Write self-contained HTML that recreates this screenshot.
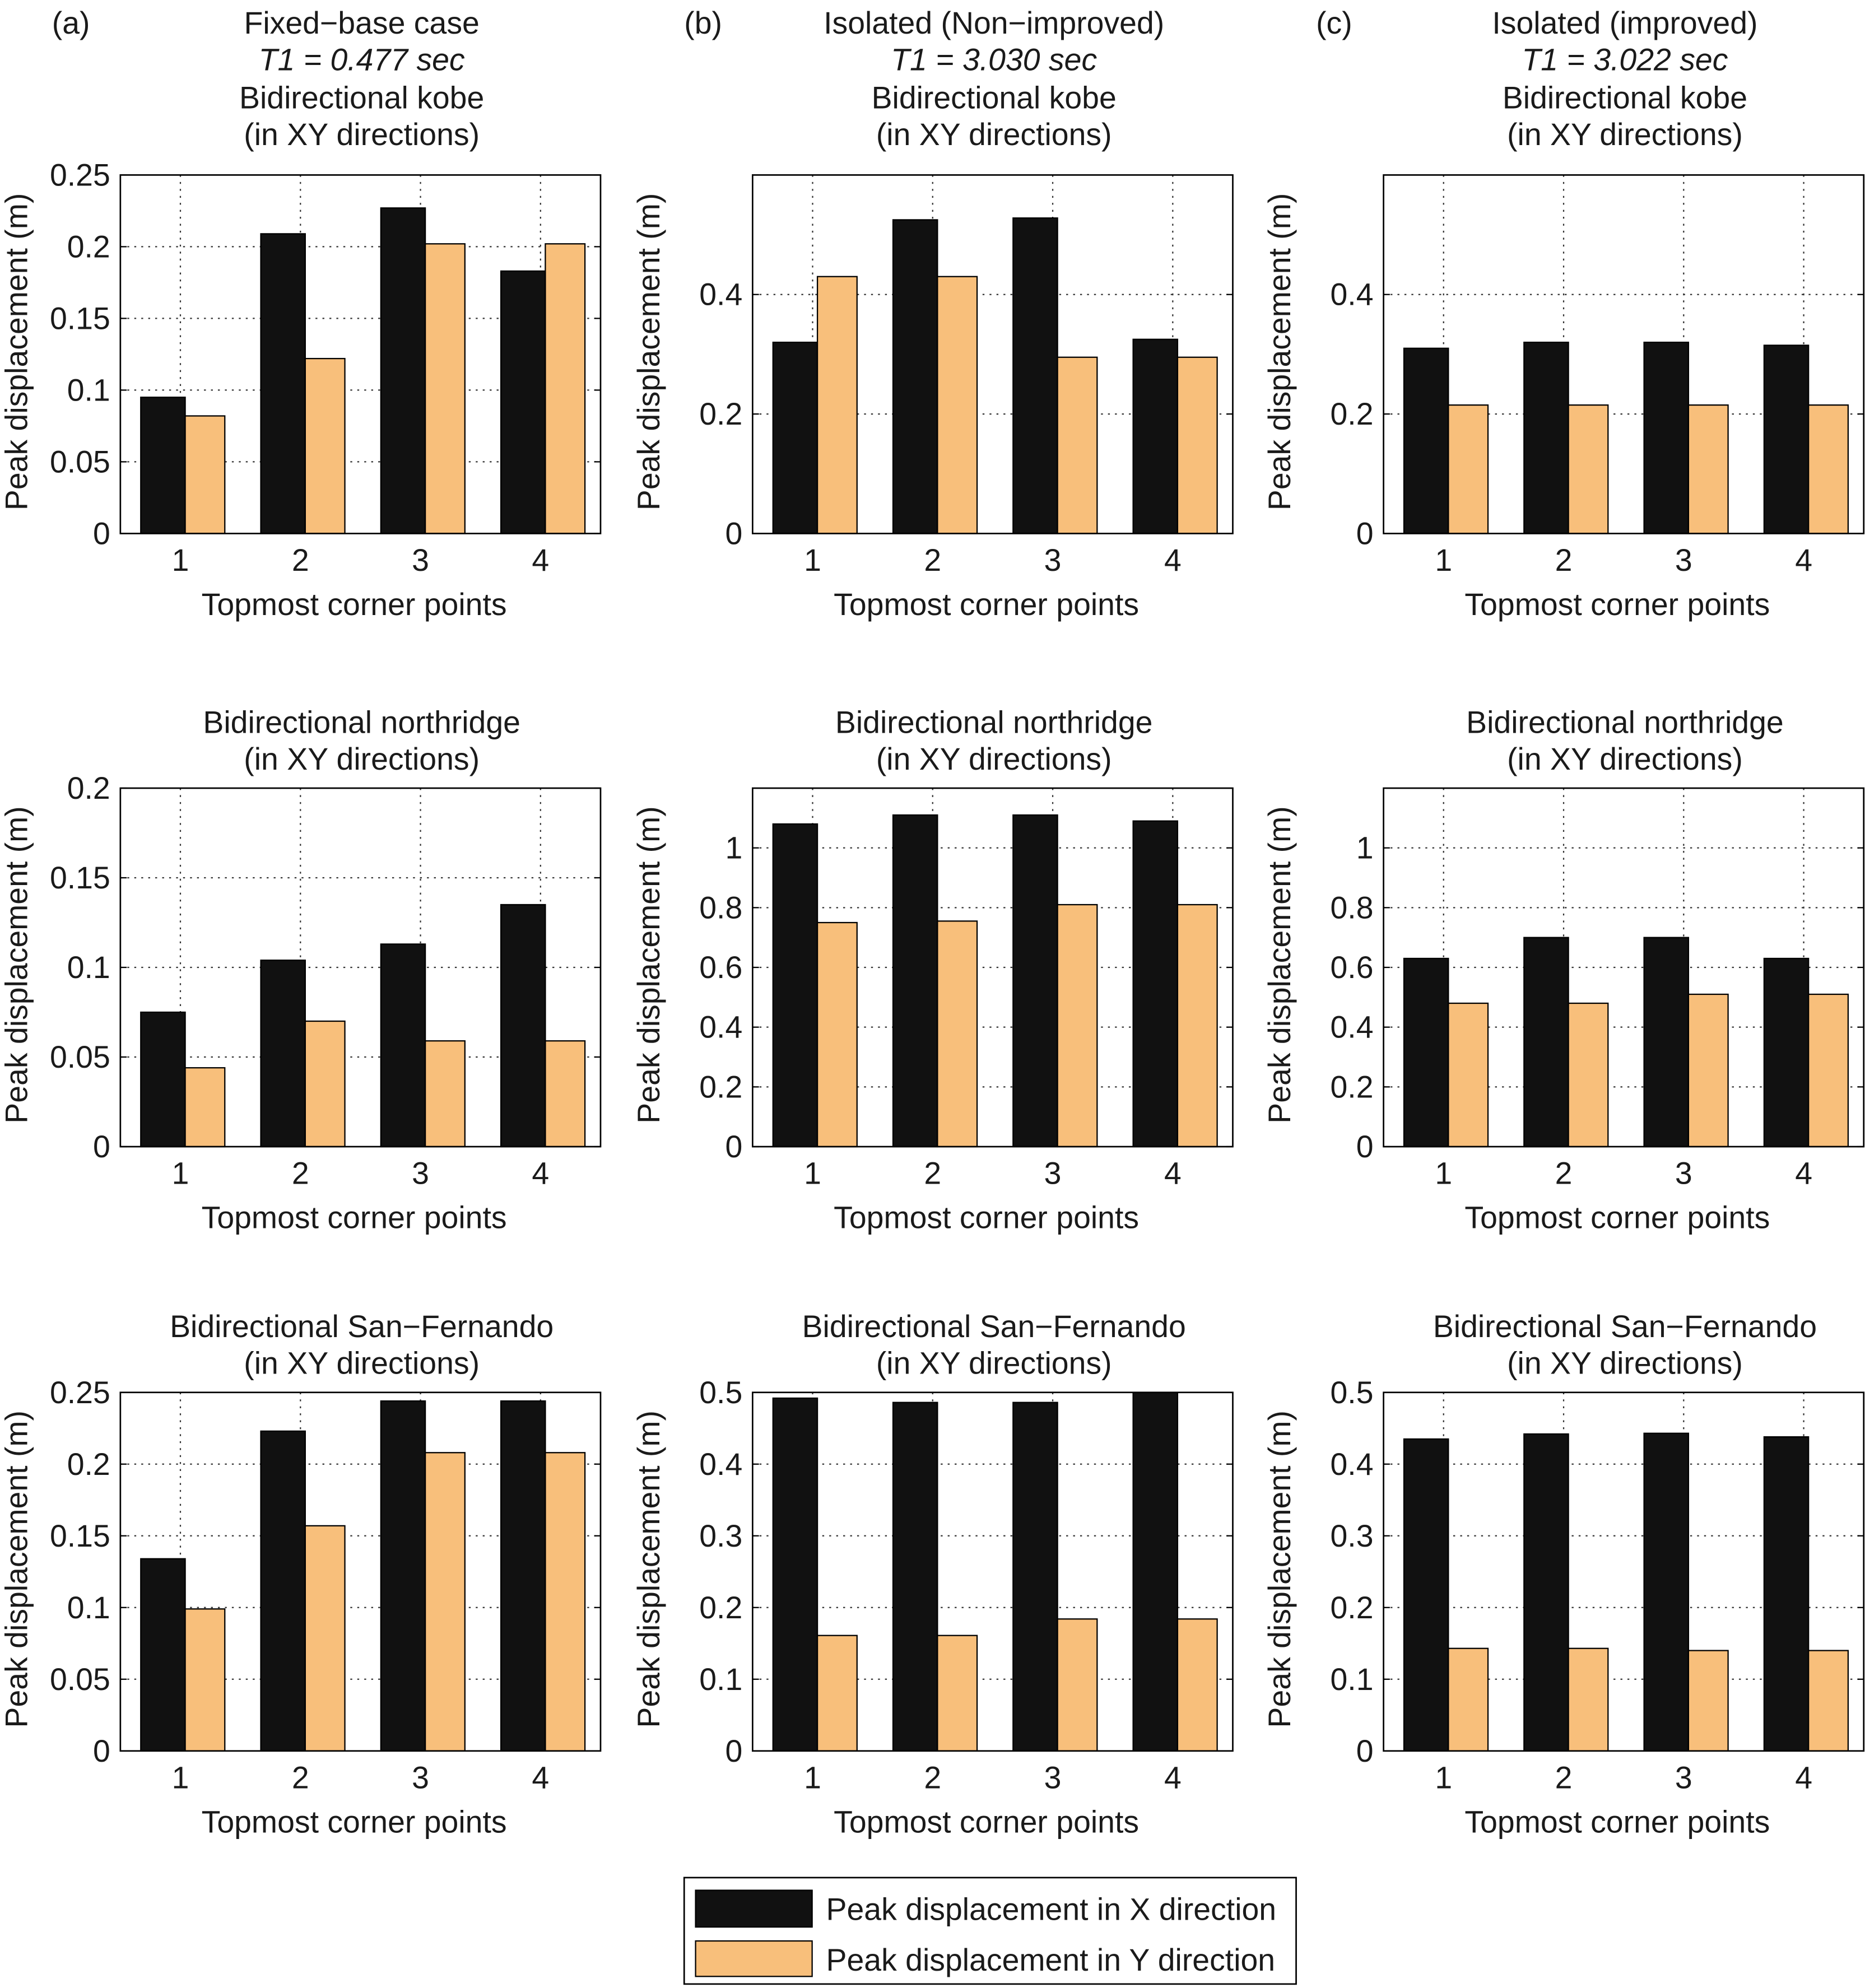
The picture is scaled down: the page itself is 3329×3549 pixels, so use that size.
<!DOCTYPE html>
<html><head><meta charset="utf-8"><style>
html,body{margin:0;padding:0;background:#fff;}
svg{display:block;}
text{font-family:"Liberation Sans",sans-serif;fill:#1a1a1a;}
</style></head><body>
<svg id="fig" width="3329" height="3549" viewBox="0 0 1472 1569" xmlns="http://www.w3.org/2000/svg"></svg>
<script>
const categories = [1, 2, 3, 4];
const xKobeFixed = [0.095, 0.209, 0.227, 0.183];
const yKobeFixed = [0.082, 0.122, 0.202, 0.202];
const xKobeIso = [0.32, 0.525, 0.528, 0.325];
const yKobeIso = [0.43, 0.43, 0.295, 0.295];
const xKobeImp = [0.31, 0.32, 0.32, 0.315];
const yKobeImp = [0.215, 0.215, 0.215, 0.215];
const xNorthFixed = [0.075, 0.104, 0.113, 0.135];
const yNorthFixed = [0.044, 0.07, 0.059, 0.059];
const xNorthIso = [1.08, 1.11, 1.11, 1.09];
const yNorthIso = [0.75, 0.755, 0.81, 0.81];
const xNorthImp = [0.63, 0.70, 0.70, 0.63];
const yNorthImp = [0.48, 0.48, 0.51, 0.51];
const xSanFixed = [0.134, 0.223, 0.244, 0.244];
const ySanFixed = [0.099, 0.157, 0.208, 0.208];
const xSanIso = [0.492, 0.486, 0.486, 0.5];
const ySanIso = [0.161, 0.161, 0.184, 0.184];
const xSanImp = [0.435, 0.442, 0.443, 0.438];
const ySanImp = [0.143, 0.143, 0.14, 0.14];
const ticksA = ["0","0.05","0.1","0.15","0.2","0.25"];
const ticksB = ["0","0.2","0.4"];
const ticksN = ["0","0.05","0.1","0.15","0.2"];
const ticksNI = ["0","0.2","0.4","0.6","0.8","1"];
const ticksS = ["0","0.1","0.2","0.3","0.4","0.5"];

const NS = "http://www.w3.org/2000/svg";
const svg = document.getElementById("fig");
const FS = 24.5;
function el(tag, attrs, parent) {
  const e = document.createElementNS(NS, tag);
  for (const k in attrs) e.setAttribute(k, attrs[k]);
  (parent || svg).appendChild(e);
  return e;
}
function txt(s, x, y, anchor, parent, extra) {
  const t = el("text", Object.assign({x: x, y: y, "text-anchor": anchor || "middle", "font-size": FS, "dominant-baseline": "central"}, extra || {}), parent);
  t.textContent = s;
  return t;
}
const cols = [95, 594, 1092];
const rows = [138, 622, 1099];
const W = 379, H = 283;
const panels = [
  [0,0,xKobeFixed,yKobeFixed,ticksA,0.25],
  [1,0,xKobeIso,yKobeIso,ticksB,0.6],
  [2,0,xKobeImp,yKobeImp,ticksB,0.6],
  [0,1,xNorthFixed,yNorthFixed,ticksN,0.2],
  [1,1,xNorthIso,yNorthIso,ticksNI,1.2],
  [2,1,xNorthImp,yNorthImp,ticksNI,1.2],
  [0,2,xSanFixed,ySanFixed,ticksA,0.25],
  [1,2,xSanIso,ySanIso,ticksS,0.5],
  [2,2,xSanImp,ySanImp,ticksS,0.5]
];
const quakes = ["kobe","northridge","San\u2212Fernando"];
panels.forEach(p => {
  const [ci, ri, xs, ys, ticks, ymax] = p;
  const x0 = cols[ci], y0 = rows[ri];
  const g = el("g", {});
  
  
  const sx = v => x0 + (v - 0.5) / 4 * W;
  const sy = v => y0 + H - v / ymax * H;
  el("rect", {x: x0, y: y0, width: W, height: H, fill: "#fff"}, g);
  ticks.forEach(t => {
    const v = parseFloat(t);
    const y = sy(v);
    if (v > 0 && v < ymax) el("line", {x1: x0, x2: x0 + W, y1: y, y2: y, stroke: "#333", "stroke-width": 1, "stroke-dasharray": "1.5,4"}, g);
    el("line", {x1: x0, x2: x0 + 5, y1: y, y2: y, stroke: "#000"}, g);
    el("line", {x1: x0 + W - 5, x2: x0 + W, y1: y, y2: y, stroke: "#000"}, g);
    const tl = txt(t, x0 - 8, y, "end", g);
    
    
  });
  categories.forEach((c, i) => {
    const x = sx(c);
    el("line", {x1: x, x2: x, y1: y0, y2: y0 + H, stroke: "#333", "stroke-width": 1, "stroke-dasharray": "1.5,4"}, g);
    const bx = el("rect", {x: sx(c - 0.33), y: sy(xs[i]), width: sx(c + 0.04) - sx(c - 0.33), height: sy(0) - sy(xs[i]), fill: "#111", stroke: "#000"}, g);
    
    
    const by = el("rect", {x: sx(c + 0.04), y: sy(ys[i]), width: sx(c + 0.37) - sx(c + 0.04), height: sy(0) - sy(ys[i]), fill: "#f8bf7b", stroke: "#000"}, g);
    
    
    const xl = txt(String(c), x, y0 + H + 21, "middle", g);
    
    
  });
  el("rect", {x: x0, y: y0, width: W, height: H, fill: "none", stroke: "#000", "stroke-width": 1.2}, g);
  const xt = txt("Topmost corner points", x0 + W/2 - 5, y0 + H + 56, "middle", g);
  
  
  const yx = x0 - 82, yy = y0 + H/2 - 2;
  const yt = txt("Peak displacement (m)", yx, yy, "middle", g, {transform: "rotate(-90 " + yx + " " + yy + ")"});
  
  
  const cx = x0 + W/2 + 1;
  const tt = txt("Bidirectional " + quakes[ri], cx, y0 - (ri === 0 ? 61 : 52), "middle", g);
  
  
  txt("(in XY directions)", cx, y0 - (ri === 0 ? 32 : 23), "middle", g);
});
const heads = [["(a)","Fixed\u2212base case","T1 = 0.477 sec"],["(b)","Isolated (Non\u2212improved)","T1 = 3.030 sec"],["(c)","Isolated (improved)","T1 = 3.022 sec"]];
heads.forEach((h, i) => {
  const x0 = cols[i];
  const a = txt(h[0], x0 - 39, 18, "middle");
  
  
  const b = txt(h[1], x0 + W/2 + 1, 18, "middle");
  
  
  const c = txt(h[2], x0 + W/2 + 1, 47, "middle", null, {"font-style": "italic"});
  
  
});
const lg = el("g", {});


el("rect", {x: 540, y: 1482, width: 483, height: 84, fill: "#fff", stroke: "#000", "stroke-width": 1.2}, lg);
el("rect", {x: 549, y: 1492, width: 92, height: 29, fill: "#111", stroke: "#000"}, lg);
el("rect", {x: 549, y: 1532, width: 92, height: 28, fill: "#f8bf7b", stroke: "#000"}, lg);
txt("Peak displacement in X direction", 652, 1507, "start", lg);
txt("Peak displacement in Y direction", 652, 1547, "start", lg);
</script>
</body></html>
